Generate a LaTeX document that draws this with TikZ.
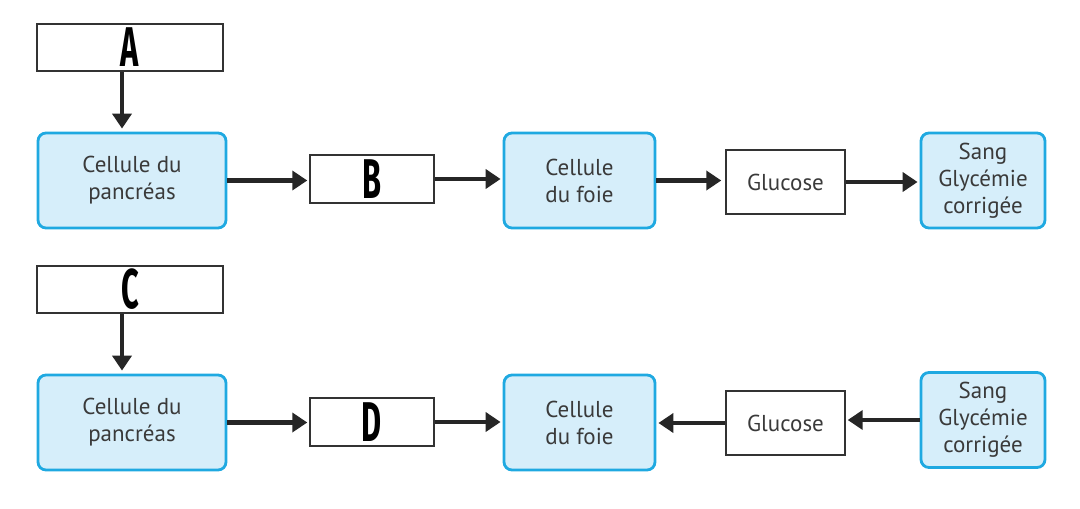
\documentclass[tikz,border=0pt]{standalone}
\usepackage{fontspec}
\usepackage{xcolor}
\usepackage{tikz}
\usetikzlibrary{arrows.meta, positioning}
\setmainfont{PT Sans}
\newfontfamily\letterfont{Fira Sans}
\definecolor{cellfill}{HTML}{D6EEFA}
\definecolor{celldraw}{HTML}{1FA9E1}
\definecolor{textgray}{HTML}{3A3A3A}
\tikzset{
    cell/.style={rectangle, rounded corners=4pt, draw=celldraw, fill=cellfill, line width=1.4pt, align=center, text=textgray, font=\fontsize{11.5}{13.5}\selectfont},
    blank/.style={rectangle, draw=black!80, line width=0.7pt, align=center, text=textgray, font=\fontsize{11.5}{13.5}\selectfont},
    letter/.style={rectangle, draw=black!80, line width=0.7pt, inner ysep=0pt, text height=19pt, text depth=0pt, font=\letterfont\bfseries\fontsize{28}{28}\selectfont},
    arr/.style={line width=2.2pt, draw=black!85, -{Triangle[length=7.5pt, width=9.5pt]}}
}
\newcommand{\tall}[1]{\scalebox{0.55}[1]{#1}}

\begin{document}
\begin{tikzpicture}[x=0.5pt, y=-0.5pt]
            \useasboundingbox (0,0) rectangle (1080,508);

            % Insuline : first row
            \node[letter, minimum width=93pt, minimum height=23.5pt] (A) at (130,47.5) {\tall{A}};
            \node[cell, minimum width=94pt, minimum height=47.5pt] (pan1) at (132,180.5) {Cellule du\\pancréas};
            \node[letter, minimum width=62pt, minimum height=24pt] (B) at (372,179) {\tall{B}};
            \node[cell, minimum width=75.5pt, minimum height=47.5pt] (foie1) at (579.5,180.5) {Cellule\\du foie};
            \node[blank, minimum width=59.5pt, minimum height=32pt] (glu1) at (785.5,182) {Glucose};
            \node[cell, minimum width=62pt, minimum height=47.5pt] (sang1) at (983,180.5) {Sang\\Glycémie\\corrigée};

            \draw[arr] ([xshift=-4pt]A.south) -- ([xshift=-4pt, yshift=1.5pt]A.south |- pan1.north);
            \draw[arr] (pan1.east) -- ([xshift=-1pt]B.west |- pan1.east);
            \draw[arr] (B.east) -- ([xshift=-1pt]foie1.west |- B.east);
            \draw[arr] (foie1.east) -- ([xshift=-2pt]glu1.west |- foie1.east);
            \draw[arr] (glu1.east) -- ([xshift=-1pt]sang1.west |- glu1.east);

            % Glucagon : second row
            \node[letter, minimum width=93pt, minimum height=23.5pt] (C) at (130,289.5) {\tall{C}};
            \node[cell, minimum width=94pt, minimum height=47.5pt] (pan2) at (132,422.5) {Cellule du\\pancréas};
            \node[letter, minimum width=62pt, minimum height=24pt] (D) at (372,422) {\tall{D}};
            \node[cell, minimum width=75.5pt, minimum height=47.5pt] (foie2) at (579.5,422.5) {Cellule\\du foie};
            \node[blank, minimum width=59.5pt, minimum height=32pt] (glu2) at (785.5,423) {Glucose};
            \node[cell, minimum width=62pt, minimum height=47.5pt] (sang2) at (983,420) {Sang\\Glycémie\\corrigée};

            \draw[arr] ([xshift=-4pt]C.south) -- ([xshift=-4pt, yshift=1.5pt]C.south |- pan2.north);
            \draw[arr] (pan2.east) -- ([xshift=-1pt]D.west |- pan2.east);
            \draw[arr] (D.east) -- ([xshift=-1pt]foie2.west |- D.east);
            \draw[arr] (glu2.west) -- ([xshift=1pt]foie2.east |- glu2.west);
            \draw[arr] (sang2.west) -- ([xshift=1pt]glu2.east |- sang2.west);

        \end{tikzpicture}
\end{document}
